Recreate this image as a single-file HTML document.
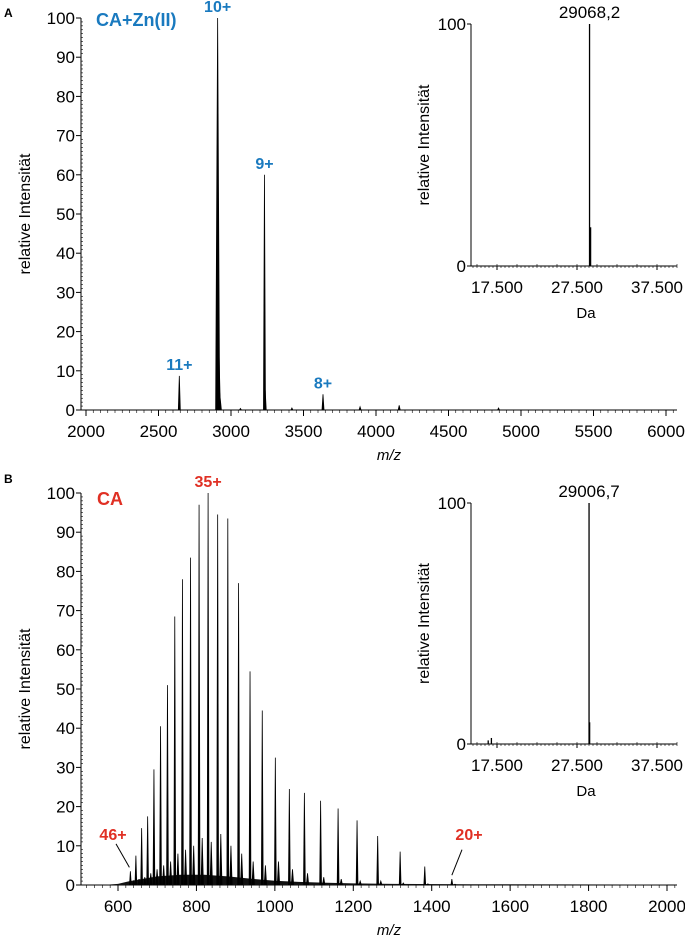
<!DOCTYPE html>
<html><head><meta charset="utf-8">
<style>
html,body{margin:0;padding:0;background:#fff;}
svg{display:block;font-family:"Liberation Sans Narrow","Liberation Sans",sans-serif;}
</style></head>
<body>
<svg id="chart" width="685" height="936" viewBox="0 0 685 936" xmlns="http://www.w3.org/2000/svg">
<text x="4" y="17" font-size="12" font-weight="bold" font-family="Liberation Sans, sans-serif">A</text>
<text x="4" y="483" font-size="12" font-weight="bold" font-family="Liberation Sans, sans-serif">B</text>
<g id="gA"></g>
<g id="gAi"></g>
<g id="gB"></g>
<g id="gBi"></g>
</svg>
<script>
// ---- Panel A data (CA+Zn(II)) ----
const aMz = [2643.6, 2907.8, 2913, 2920, 3230.8, 3236, 3634.5, 3890, 4160, 4845, 3420, 3065];
const aInt = [8.7, 100, 21, 5, 60, 5, 4, 0.8, 1.2, 0.5, 0.5, 0.4];
const aXTicks = [2000, 2500, 3000, 3500, 4000, 4500, 5000, 5500, 6000];
const aLabels = ["11+", "10+", "9+", "8+"];
const aLabelMz = [2643.6, 2907.8, 3230.8, 3634.5];
const aLabelInt = [8.7, 100, 60, 4];
// ---- Panel B data (CA) ----
const bCharges = [46,45,44,43,42,41,40,39,38,37,36,35,34,33,32,31,30,29,28,27,26,25,24,23,22,21,20];
const bInt = [3.5,7.5,14.5,17.5,29.5,40.5,51,68.5,78,83.5,97,100,94.5,93.5,77,54.5,44.5,32.5,24.5,23.5,21.5,19.5,16.5,12.5,8.5,4.7,1.5];
const bSatInt = [1,1.5,2,3,4,5,6,8,9,10,12,11,13,10,8,6,5,6,4,3,2,1.5,1,1,0.5,0.3,0.2];
const bEnvMz = [560,600,630,700,760,820,880,940,1000,1060,1120,1200,1300,1500,2000];
const bEnvInt = [0,0.3,1,2.2,2.6,2.6,2.2,1.6,1.1,0.8,0.6,0.4,0.3,0.2,0.1];
const bXTicks = [600, 800, 1000, 1200, 1400, 1600, 1800, 2000];
const bMass = 29006.7, aMass = 29068.2;
// ---- Insets ----
const insetTicks = [17500, 27500, 37500];
const insetTickLabels = ["17.500", "27.500", "37.500"];
const insetAPeaks = [29068.2, 29200];
const insetAInt = [100, 16];
const insetBPeaks = [29006.7, 29080, 16800, 16400];
const insetBInt = [100, 9, 2.5, 1.5];
const yTicks = [0,10,20,30,40,50,60,70,80,90,100];

const NS = "http://www.w3.org/2000/svg";
function el(parent, tag, attrs, text){
  const e = document.createElementNS(NS, tag);
  for (const k in attrs) e.setAttribute(k, attrs[k]);
  if (text !== undefined) e.textContent = text;
  parent.appendChild(e); return e;
}
function lin(d0,d1,r0,r1){ return v => r0 + (v-d0)/(d1-d0)*(r1-r0); }

function axesMain(g, x, y, xmin, xmax, xTicks, minorStep, x0px, x1px, y0px, y1px, name){
  const ya = el(g,"line",{x1:x0px,y1:y0px,x2:x0px,y2:y1px,stroke:"#000","stroke-width":1});
   
  for (let v=0; v<=100; v+=1){
    el(g,"line",{x1:x0px,x2:x0px+(v%10===0?0:2),y1:y(v),y2:y(v),stroke:"#000","stroke-width":0.6});
  }
  yTicks.forEach(v=>{
    el(g,"line",{x1:x0px-5,x2:x0px,y1:y(v),y2:y(v),stroke:"#000","stroke-width":1});
    const t = el(g,"text",{x:x0px-6,y:y(v)+6,"font-size":17,"text-anchor":"end"}, String(v));
     
  });
  const xa = el(g,"line",{x1:x0px,y1:y1px,x2:x1px,y2:y1px,stroke:"#000","stroke-width":1});
   
  for (let v=Math.ceil(xmin/minorStep)*minorStep; v<=xmax; v+=minorStep){
    el(g,"line",{x1:x(v),x2:x(v),y1:y1px,y2:y1px+3,stroke:"#000","stroke-width":0.6});
  }
  xTicks.forEach(v=>{
    el(g,"line",{x1:x(v),x2:x(v),y1:y1px,y2:y1px+6,stroke:"#000","stroke-width":1});
    const t = el(g,"text",{x:x(v),y:y1px+27,"font-size":17,"text-anchor":"middle"}, String(v));
     
  });
  const yl = el(g,"text",{transform:`translate(30,${(y0px+y1px)/2}) rotate(-90)`,"font-size":16,"text-anchor":"middle","font-family":"Liberation Sans, sans-serif"},"relative Intensität");
   
  const xl = el(g,"text",{x:(x0px+x1px)/2+10,y:y1px+50,"font-size":15,"font-style":"italic","text-anchor":"middle","font-family":"Liberation Sans, sans-serif"},"m/z");
   
}
function peak(g, x, y, mz, inten, w, name){
  const p = el(g,"path",{d:`M${x(mz)-w},${y(0)} L${x(mz)},${y(inten)} L${x(mz)+w},${y(0)} Z`,fill:"#000",stroke:"#000","stroke-width":0.8});
   
}
function inset(g, peaksX, peaksI, y0, y100, label, name){
  const x = lin(17500,37500,497,657);
  const y = lin(0,100,y0,y100);
  const ya = el(g,"line",{x1:471,x2:471,y1:y100,y2:y0,stroke:"#000","stroke-width":1});
   
  [0,100].forEach(v=>{
    el(g,"line",{x1:467,x2:471,y1:y(v),y2:y(v),stroke:"#000","stroke-width":1});
    const t = el(g,"text",{x:466,y:y(v)+6,"font-size":17,"text-anchor":"end"},String(v));
     
  });
  const xa = el(g,"line",{x1:471,x2:677,y1:y0,y2:y0,stroke:"#000","stroke-width":1});
   
  for (let v=14500; v<=40000; v+=500){
    el(g,"line",{x1:x(v),x2:x(v),y1:y0-(v%2500===0?2:0),y2:y0+2,stroke:"#000","stroke-width":0.6});
  }
  insetTicks.forEach((v,i)=>{
    el(g,"line",{x1:x(v),x2:x(v),y1:y0,y2:y0+4,stroke:"#000","stroke-width":1});
    const t = el(g,"text",{x:x(v),y:y0+27,"font-size":17,"text-anchor":"middle"},insetTickLabels[i]);
     
  });
  peaksX.forEach((m,i)=>{
    const l = el(g,"line",{x1:x(m),x2:x(m),y1:y0,y2:y(peaksI[i]),stroke:"#000","stroke-width":1.3});
     
  });
  const t = el(g,"text",{x:x(peaksX[0]),y:y(100)-6,"font-size":17,"text-anchor":"middle"},label);
   
  const yl = el(g,"text",{transform:`translate(429,${(y0+y100)/2}) rotate(-90)`,"font-size":16,"text-anchor":"middle","font-family":"Liberation Sans, sans-serif"},"relative Intensität");
   
  const dl = el(g,"text",{x:x(27500)+9,y:y0+52,"font-size":15,"text-anchor":"middle","font-family":"Liberation Sans, sans-serif"},"Da");
   
}

// Panel A
(function(){
  const g = document.getElementById("gA");
  const x = lin(2000,6000,86,666), y = lin(0,100,410,18);
  axesMain(g,x,y,1970,6070,aXTicks,50,81,677,18,410,"panel-a");
  aMz.forEach((m,i)=>peak(g,x,y,m,aInt[i],m>2905&&m<2925?2:1,"panel-a-peak"));
  aLabels.forEach((s,i)=>{
    const t = el(g,"text",{x:x(aLabelMz[i]),y:y(aLabelInt[i])-6,"font-size":16,"font-weight":"bold",fill:"#1a7abf","text-anchor":"middle"},s);
     
  });
  const t = el(g,"text",{x:96,y:26,"font-size":18,"font-weight":"bold",fill:"#1a7abf"},"CA+Zn(II)");
   
  inset(document.getElementById("gAi"),insetAPeaks,insetAInt,266,24,"29068,2","panel-a-inset");
})();

// Panel B
(function(){
  const g = document.getElementById("gB");
  const x = lin(600,2000,118,667), y = lin(0,100,885,493);
  axesMain(g,x,y,513,2030,bXTicks,20,81,677,493,885,"panel-b");
  let d = `M${x(bEnvMz[0])},${y(0)}`;
  bEnvMz.forEach((m,i)=>{ d += ` L${x(m)},${y(bEnvInt[i])}`; });
  d += ` L${x(bEnvMz[bEnvMz.length-1])},${y(0)} Z`;
  const env = el(g,"path",{d:d,fill:"#111"});
   
  bCharges.forEach((z,i)=>{
    const mz = (bMass + z*1.007)/z;
    peak(g,x,y,mz,bInt[i],0.9,"panel-b-peak");
    peak(g,x,y,mz+8,bSatInt[i],1.2,"panel-b-adduct-peak");
  });
  const t1 = el(g,"text",{x:x((bMass+35*1.007)/35),y:y(100)-6,"font-size":16,"font-weight":"bold",fill:"#e03024","text-anchor":"middle"},"35+");
   
  const t2 = el(g,"text",{x:113,y:y(11.5),"font-size":16,"font-weight":"bold",fill:"#e03024","text-anchor":"middle"},"46+");
   
  el(g,"line",{x1:116,y1:y(10.5),x2:x((bMass+46*1.007)/46)-1,y2:y(4.5),stroke:"#000","stroke-width":1});
  const t3 = el(g,"text",{x:469,y:y(11.5),"font-size":16,"font-weight":"bold",fill:"#e03024","text-anchor":"middle"},"20+");
   
  el(g,"line",{x1:462,y1:y(9),x2:x((bMass+20*1.007)/20),y2:y(2.5),stroke:"#000","stroke-width":1});
  const t = el(g,"text",{x:97,y:y(97),"font-size":18,"font-weight":"bold",fill:"#e03024"},"CA");
   
  inset(document.getElementById("gBi"),insetBPeaks,insetBInt,744,503,"29006,7","panel-b-inset");
})();
</script>
</body></html>
